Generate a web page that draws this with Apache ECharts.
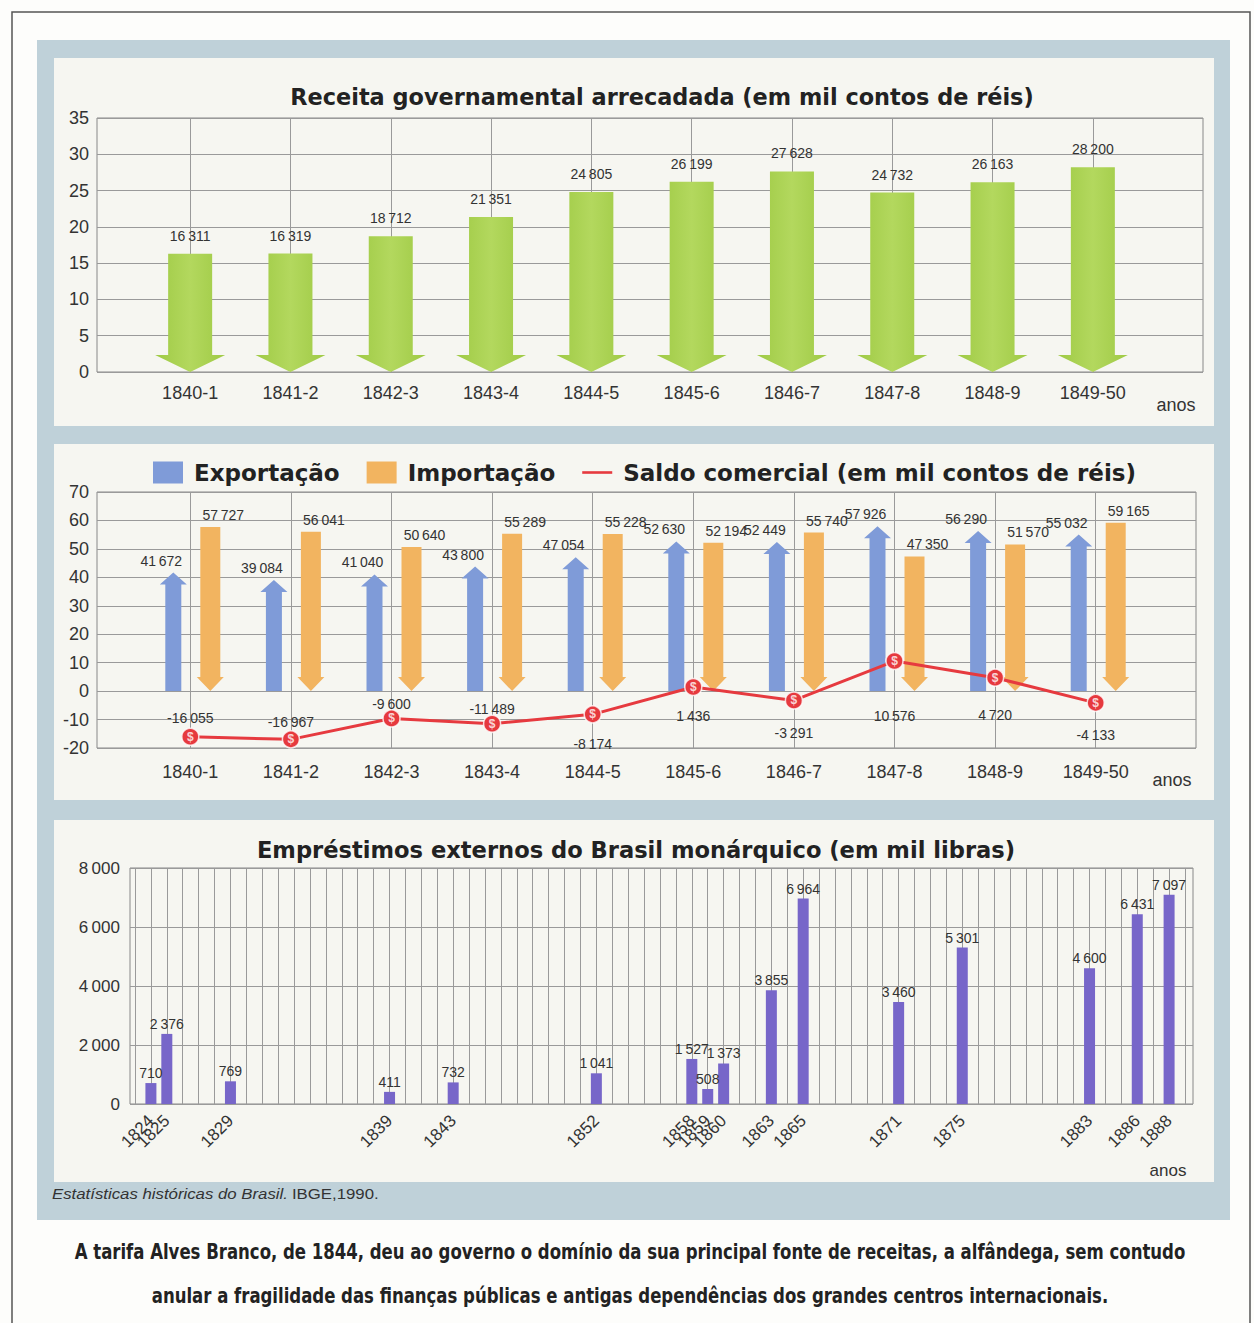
<!DOCTYPE html>
<html>
<head>
<meta charset="utf-8">
<script src="https://cdn.jsdelivr.net/npm/echarts@6/dist/echarts.min.js"></script>
<style>
html,body{margin:0;padding:0;background:#fdfdfb;}
#c{width:1254px;height:1323px;}
</style>
</head>
<body>
<div id="c"></div>
<script>
// ---------- DATA ----------
const periods = ['1840-1','1841-2','1842-3','1843-4','1844-5','1845-6','1846-7','1847-8','1848-9','1849-50'];
const revenueValues = [16311,16319,18712,21351,24805,26199,27628,24732,26163,28200];
const exportValues = [41672,39084,41040,43800,47054,52630,52449,57926,56290,55032];
const importValues = [57727,56041,50640,55289,55228,52194,55740,47350,51570,59165];
const balanceValues = [-16055,-16967,-9600,-11489,-8174,1436,-3291,10576,4720,-4133];
const loanYears = ['1824','1825','1829','1839','1843','1852','1858','1859','1860','1863','1865','1871','1875','1883','1886','1888'];
const loanValues = [710,2376,769,411,732,1041,1527,508,1373,3855,6964,3460,5301,4600,6431,7097];
const loanAxisFirstYear = 1823;
const loanAxisLastYear = 1889;
const revenueTicks = {min: 0, max: 35, interval: 5};
const tradeTicks = {min: -20, max: 70, interval: 10};
const loanTicks = {min: 0, max: 8000, interval: 2000};

// ---------- STYLE ----------
const balanceLabelDy = [-19,-17,-14,-15,30,29,33,55,37,32];
const FONT = "'Liberation Sans', Arial, Helvetica, sans-serif";
const HEAD = "'DejaVu Sans', Verdana, sans-serif";
const COND = "'DejaVu Sans Condensed', 'DejaVu Sans', sans-serif";
const GRID_LINE = '#9a9a9a';

function fmt(n) {
  const s = String(Math.abs(n)).replace(/\B(?=(\d{3})+(?!\d))/g, '\u2009');
  return (n < 0 ? '-' : '') + s;
}
const loanAxisYears = [];
for (let y = loanAxisFirstYear; y <= loanAxisLastYear; y++) loanAxisYears.push(String(y));

const chart = echarts.init(document.getElementById('c'), null, {renderer: 'svg'});

function revenueArrow(params, api) {
  const i = api.value(0), v = api.value(1), raw = api.value(2);
  const top = api.coord([i, v]);
  const base = api.coord([i, 0]);
  const x = top[0], bw = 22, hw = 35, hh = 17;
  const yb = base[1];
  return {type: 'group', children: [
    {type: 'polygon', shape: {points: [[x-bw, top[1]], [x+bw, top[1]], [x+bw, yb-hh], [x+hw, yb-hh], [x, yb], [x-hw, yb-hh], [x-bw, yb-hh]]},
     style: {fill: new echarts.graphic.LinearGradient(0, 0, 1, 0, [{offset: 0, color: '#9fca45'}, {offset: 0.5, color: '#b3d85e'}, {offset: 1, color: '#9fca45'}])}},
    {type: 'text', style: {text: fmt(raw), x: x, y: top[1] - 18, align: 'center', verticalAlign: 'middle', font: '14px ' + FONT, fill: '#333'}}
  ]};
}
function exportArrow(params, api) {
  const i = api.value(0), v = api.value(1), raw = api.value(2);
  const top = api.coord([i, v]);
  const base = api.coord([i, 0]);
  const x = top[0] - 17, bw = 8, hw = 13.5, hh = 12;
  const yt = top[1];
  return {type: 'group', children: [
    {type: 'polygon', shape: {points: [[x-bw, base[1]], [x+bw, base[1]], [x+bw, yt+hh], [x+hw, yt+hh], [x, yt], [x-hw, yt+hh], [x-bw, yt+hh]]},
     style: {fill: '#7f9bd8'}},
    {type: 'text', style: {text: fmt(raw), x: x - 12, y: yt - 12, align: 'center', verticalAlign: 'middle', font: '14px ' + FONT, fill: '#333'}}
  ]};
}
function importArrow(params, api) {
  const i = api.value(0), v = api.value(1), raw = api.value(2);
  const top = api.coord([i, v]);
  const base = api.coord([i, 0]);
  const x = top[0] + 20, bw = 10, hw = 13.5, hh = 14;
  const yb = base[1];
  return {type: 'group', children: [
    {type: 'polygon', shape: {points: [[x-bw, top[1]], [x+bw, top[1]], [x+bw, yb-hh], [x+hw, yb-hh], [x, yb], [x-hw, yb-hh], [x-bw, yb-hh]]},
     style: {fill: '#f2b460'}},
    {type: 'text', style: {text: fmt(raw), x: x + 13, y: top[1] - 12, align: 'center', verticalAlign: 'middle', font: '14px ' + FONT, fill: '#333'}}
  ]};
}

const vLines = {
  silent: true, symbol: 'none', z: 1, animation: false,
  label: {show: false},
  lineStyle: {color: GRID_LINE, type: 'solid', width: 1},
  data: periods.map(p => ({xAxis: p}))
};

const axisLabelStyle = {color: '#333', fontSize: 18, fontFamily: FONT};
const saldoName = 'Saldo comercial (em mil contos de réis)';

const option = {
  animation: false,
  backgroundColor: '#fdfdfb',
  textStyle: {fontFamily: FONT},
  graphic: [
    {type: 'rect', z: -20, shape: {x: 12, y: 12, width: 1238, height: 1340}, style: {fill: '#fdfdfb', stroke: '#555', lineWidth: 1.5}},
    {type: 'rect', z: -19, shape: {x: 37, y: 40, width: 1193, height: 1180}, style: {fill: '#bfd1d9'}},
    {type: 'rect', z: -18, shape: {x: 54, y: 58, width: 1160, height: 368}, style: {fill: '#f6f6f1'}},
    {type: 'rect', z: -18, shape: {x: 54, y: 444, width: 1160, height: 356}, style: {fill: '#f6f6f1'}},
    {type: 'rect', z: -18, shape: {x: 54, y: 820, width: 1160, height: 362}, style: {fill: '#f6f6f1'}},
    {type: 'text', z: 50, x: 662, y: 97, style: {text: 'Receita governamental arrecadada (em mil contos de réis)', align: 'center', verticalAlign: 'middle', font: 'bold 22.4px ' + HEAD, fill: '#222'}},
    {type: 'text', z: 50, x: 636, y: 850, style: {text: 'Empréstimos externos do Brasil monárquico (em mil libras)', align: 'center', verticalAlign: 'middle', font: 'bold 22.6px ' + HEAD, fill: '#222'}},
    {type: 'text', z: 50, x: 1176, y: 405, style: {text: 'anos', align: 'center', verticalAlign: 'middle', font: '18px ' + FONT, fill: '#333'}},
    {type: 'text', z: 50, x: 1172, y: 780, style: {text: 'anos', align: 'center', verticalAlign: 'middle', font: '18px ' + FONT, fill: '#333'}},
    {type: 'text', z: 50, x: 1168, y: 1170, style: {text: 'anos', align: 'center', verticalAlign: 'middle', font: '17px ' + FONT, fill: '#333'}},
    {type: 'text', z: 50, x: 52, y: 1194, scaleX: 1.12, style: {
      text: '{i|Estatísticas históricas do Brasil.} {n|IBGE,1990.}', align: 'left', verticalAlign: 'middle',
      rich: {i: {fontStyle: 'italic', fontSize: 15, fontFamily: FONT, fill: '#333'}, n: {fontSize: 15, fontFamily: FONT, fill: '#333'}}}},
    {type: 'text', z: 50, x: 630, y: 1252, scaleX: 0.875, style: {text: 'A tarifa Alves Branco, de 1844, deu ao governo o domínio da sua principal fonte de receitas, a alfândega, sem contudo', align: 'center', verticalAlign: 'middle', font: 'bold 21px ' + COND, fill: '#222'}},
    {type: 'text', z: 50, x: 630, y: 1296, scaleX: 0.875, style: {text: 'anular a fragilidade das finanças públicas e antigas dependências dos grandes centros internacionais.', align: 'center', verticalAlign: 'middle', font: 'bold 21px ' + COND, fill: '#222'}}
  ],
  legend: {
    left: 148, top: 456, itemWidth: 30, itemHeight: 22, itemGap: 27, selectedMode: false,
    textStyle: {fontSize: 23, fontWeight: 'bold', color: '#222', fontFamily: HEAD, padding: [0, 0, 0, 6]},
    data: [
      {name: 'Exportação', icon: 'rect'},
      {name: 'Importação', icon: 'rect'},
      {name: saldoName, icon: 'path://M0,0H40V3.5H0Z'}
    ]
  },
  grid: [
    {left: 97, top: 118, width: 1106, height: 254, show: true, borderColor: '#888', borderWidth: 1, backgroundColor: 'transparent'},
    {left: 140, top: 118, width: 1003, height: 254},
    {left: 97, top: 492, width: 1099, height: 256, show: true, borderColor: '#888', borderWidth: 1, backgroundColor: 'transparent'},
    {left: 140, top: 492, width: 1006, height: 256},
    {left: 130, top: 868, width: 1063, height: 236, show: true, borderColor: '#888', borderWidth: 1, backgroundColor: 'transparent'},
    {left: 135, top: 868, width: 1050, height: 236}
  ],
  xAxis: [
    {gridIndex: 0, type: 'value', min: 0, max: 1, show: false},
    {gridIndex: 1, type: 'category', data: periods, axisLine: {show: false}, axisTick: {show: false}, splitLine: {show: false},
     axisLabel: Object.assign({margin: 12, interval: 0}, axisLabelStyle)},
    {gridIndex: 2, type: 'value', min: 0, max: 1, show: false},
    {gridIndex: 3, type: 'category', data: periods, axisLine: {show: false}, axisTick: {show: false}, splitLine: {show: false},
     axisLabel: Object.assign({margin: 15, interval: 0}, axisLabelStyle)},
    {gridIndex: 4, type: 'value', min: 0, max: 1, show: false},
    {gridIndex: 5, type: 'category', data: loanAxisYears, boundaryGap: false, axisLine: {show: false}, axisTick: {show: false},
     splitLine: {show: true, interval: 0, lineStyle: {color: GRID_LINE, width: 1}},
     axisLabel: {interval: 0, rotate: 45, margin: 14, color: '#333', fontSize: 17, fontFamily: FONT,
       formatter: v => loanYears.indexOf(v) >= 0 ? v : ''}}
  ],
  yAxis: [
    {gridIndex: 0, type: 'value', min: revenueTicks.min, max: revenueTicks.max, interval: revenueTicks.interval,
     axisLine: {show: false}, axisTick: {show: false}, splitLine: {lineStyle: {color: GRID_LINE}},
     axisLabel: Object.assign({margin: 8}, axisLabelStyle)},
    {gridIndex: 1, type: 'value', min: revenueTicks.min, max: revenueTicks.max, show: false},
    {gridIndex: 2, type: 'value', min: tradeTicks.min, max: tradeTicks.max, interval: tradeTicks.interval,
     axisLine: {show: false}, axisTick: {show: false}, splitLine: {lineStyle: {color: GRID_LINE}},
     axisLabel: Object.assign({margin: 8}, axisLabelStyle)},
    {gridIndex: 3, type: 'value', min: tradeTicks.min, max: tradeTicks.max, show: false},
    {gridIndex: 4, type: 'value', min: loanTicks.min, max: loanTicks.max, interval: loanTicks.interval,
     axisLine: {show: false}, axisTick: {show: false}, splitLine: {lineStyle: {color: GRID_LINE}},
     axisLabel: {margin: 10, color: '#333', fontSize: 17, fontFamily: FONT, formatter: v => fmt(v)}},
    {gridIndex: 5, type: 'value', min: loanTicks.min, max: loanTicks.max, show: false}
  ],
  series: [
    {name: 'Receita', type: 'custom', xAxisIndex: 1, yAxisIndex: 1, renderItem: revenueArrow,
     encode: {x: 0, y: 1}, data: revenueValues.map((v, i) => [i, v / 1000, v]), markLine: vLines, z: 3},
    {name: 'Exportação', type: 'custom', xAxisIndex: 3, yAxisIndex: 3, renderItem: exportArrow, itemStyle: {color: '#7f9bd8'},
     encode: {x: 0, y: 1}, data: exportValues.map((v, i) => [i, v / 1000, v]), markLine: vLines, z: 3},
    {name: 'Importação', type: 'custom', xAxisIndex: 3, yAxisIndex: 3, renderItem: importArrow, itemStyle: {color: '#f2b460'},
     encode: {x: 0, y: 1}, data: importValues.map((v, i) => [i, v / 1000, v]), z: 3},
    {name: saldoName, type: 'line', xAxisIndex: 3, yAxisIndex: 3, z: 4,
     lineStyle: {color: '#e63a3f', width: 3}, itemStyle: {color: '#e63a3f'},
     symbol: 'circle', symbolSize: 17,
     label: {show: true, position: 'inside', color: '#333', fontSize: 14, fontFamily: FONT,
       formatter: p => fmt(balanceValues[p.dataIndex])},
     data: balanceValues.map((v, i) => ({value: v / 1000, label: {offset: [0, balanceLabelDy[i]]}}))},
    {name: 'saldo-symbol', type: 'scatter', xAxisIndex: 3, yAxisIndex: 3, z: 5,
     symbol: 'circle', symbolSize: 17,
     itemStyle: {color: '#e63a3f', borderColor: '#fff', borderWidth: 1.5},
     label: {show: true, position: 'inside', formatter: '$', color: '#fff', fontSize: 12, fontWeight: 'bold', fontFamily: FONT},
     data: balanceValues.map((v, i) => [i, v / 1000])},
    {name: 'Empréstimos', type: 'bar', xAxisIndex: 5, yAxisIndex: 5, barWidth: 11, z: 3,
     itemStyle: {color: '#7766c9'},
     label: {show: true, position: 'top', distance: 3, color: '#333', fontSize: 14, fontFamily: FONT, formatter: p => fmt(p.value[1])},
     data: loanYears.map((y, i) => [y, loanValues[i]])}
  ]
};
chart.setOption(option);
</script>
</body>
</html>
